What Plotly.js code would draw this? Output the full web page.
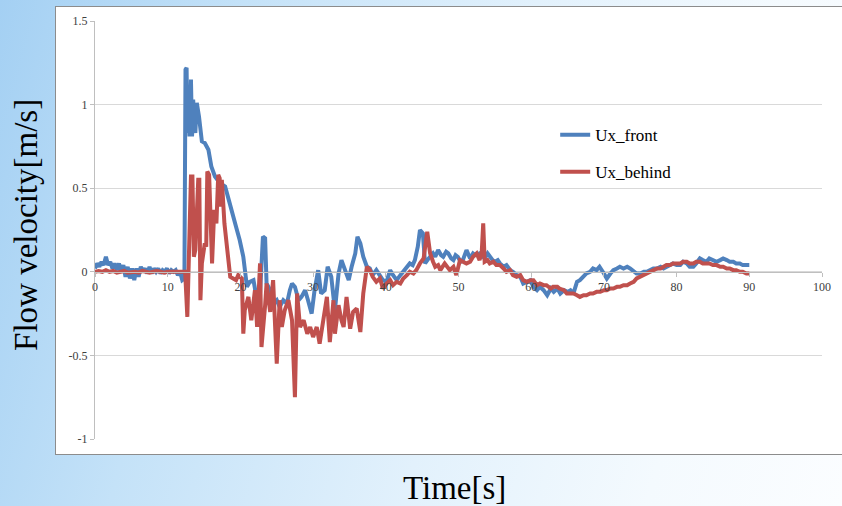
<!DOCTYPE html>
<html>
<head>
<meta charset="utf-8">
<script src="https://cdn.plot.ly/plotly-3.0.1.min.js"></script>
<style>
  html, body { margin: 0; padding: 0; }
  body {
    width: 842px; height: 506px; overflow: hidden; position: relative;
    background: linear-gradient(105deg, #a4d0f3 0%, #c4e2f8 25%, #e2f1fc 55%, #f4fafe 80%, #fbfdff 100%);
  }
  #frame {
    position: absolute; left: 55px; top: 6px; width: 800px; height: 447px;
    background: #ffffff; border: 1px solid #8c8c8c;
  }
  #chart { position: absolute; left: 0; top: 0; width: 842px; height: 506px; }
</style>
</head>
<body>
<div id="frame"></div>
<div id="chart"></div>
<script>
// Ux_front: time [s] and flow velocity [m/s]
const frontTime = [
  0, 0.3, 0.6, 0.9, 1.2, 1.5, 1.8, 2.1, 2.4, 2.7, 3.0, 3.3, 3.6, 3.9, 4.2, 4.5, 4.8, 5.1, 5.4, 5.7,
  6.0, 6.3, 6.6, 6.9, 7.2, 7.5, 7.8, 8.1, 8.4, 8.7, 9.0, 9.3, 9.6, 9.9, 10.2, 10.5, 10.8, 11.1, 11.4, 11.7,
  12.0, 12.3, 12.45, 12.6, 12.7, 12.8, 13.0, 13.2, 13.35, 13.5, 13.8, 14.0, 14.3, 14.7, 15.1, 15.6, 16.0, 16.5, 17.2, 17.6,
  17.9, 18.4, 18.9, 19.4, 19.9, 20.4, 20.9, 21.3, 21.8, 22.2, 22.7, 23.1, 23.4, 23.6, 24.1, 24.5, 25.0, 25.4, 25.9, 26.4,
  26.8, 27.1, 27.5, 28.0, 28.4, 28.9, 29.3, 29.8, 30.2, 30.7, 31.1, 31.6, 32.0, 32.5, 33.0, 33.5, 33.9, 34.4, 34.9, 35.3,
  35.8, 36.1, 36.5, 36.9, 37.4, 37.8, 38.2, 38.7, 39.2, 39.6, 40.1, 40.6, 41.0, 41.5, 42.0, 42.4, 42.9, 43.3, 43.7, 44.0,
  44.4, 44.7, 45.1, 45.4, 45.9, 46.5, 46.8, 47.2, 47.6, 47.9, 48.3, 48.6, 49.0, 49.3, 49.6, 49.9, 50.3, 50.6, 51.1, 51.6,
  52.0, 52.3, 52.9, 53.3, 53.6, 54.0, 54.3, 54.7, 55.0, 55.4, 55.7, 56.2, 56.6, 57.1, 57.5, 58.0, 58.5, 58.9, 59.4, 59.9,
  60.3, 60.8, 61.2, 61.7, 62.2, 62.7, 63.1, 63.6, 64.0, 64.5, 65.0, 65.4, 65.8, 66.3, 66.7, 67.2, 67.6, 68.1, 68.5, 69.0,
  69.4, 70.0, 70.4, 70.9, 71.3, 71.8, 72.2, 72.7, 73.2, 73.6, 74.1, 74.5, 75.0, 75.5, 75.9, 76.4, 76.8, 77.3, 77.8, 78.2,
  78.6, 79.1, 79.5, 80.0, 80.5, 80.9, 81.4, 81.8, 82.3, 82.7, 83.2, 83.6, 84.1, 84.5, 85.0, 85.5, 86.0, 86.4, 86.9, 87.3,
  87.8, 88.2, 88.7, 89.1, 89.6, 90.0
];
const frontVel = [
  0.02, 0.05, 0.03, 0.06, 0.04, 0.09, 0.04, 0.06, 0.02, 0.05, 0.01, 0.05, 0.0, 0.04, -0.03, 0.03, -0.04, 0.02, -0.05, 0.02,
  -0.03, 0.03, 0.0, 0.02, -0.01, 0.03, -0.01, 0.02, 0.0, 0.02, -0.01, 0.01, 0.0, 0.02, -0.01, 0.01, 0.0, 0.01, -0.02, 0.0,
  -0.05, -0.04, 1.21, 1.22, 0.83, 1.09, 0.81, 1.15, 0.81, 1.03, 0.83, 1.01, 0.93, 0.78, 0.77, 0.73, 0.63, 0.57, 0.53, 0.52,
  0.51, 0.43, 0.34, 0.27, 0.19, 0.09, -0.09, -0.06, -0.05, -0.15, -0.13, 0.21, 0.2, -0.07, -0.11, -0.19, -0.17, -0.21, -0.17, -0.19,
  -0.11, -0.07, -0.09, -0.17, -0.15, -0.11, -0.17, -0.25, -0.11, 0.01, -0.13, -0.11, 0.03, -0.03, -0.23, -0.01, 0.07, 0.01, -0.05, 0.03,
  0.11, 0.21, 0.17, 0.09, 0.03, 0.02, -0.02, 0.01, -0.03, -0.05, -0.06, 0.01, -0.02, -0.05, -0.02, 0.0, 0.03, 0.05, 0.04, 0.07,
  0.15, 0.25, 0.23, 0.05, 0.08, 0.11, 0.09, 0.13, 0.10, 0.09, 0.12, 0.11, 0.08, 0.07, 0.10, 0.09, 0.06, 0.07, 0.13, 0.08,
  0.11, 0.10, 0.11, 0.09, 0.08, 0.11, 0.09, 0.07, 0.06, 0.07, 0.05, 0.03, 0.04, 0.01, 0.0, -0.02, -0.03, -0.07, -0.06, -0.05,
  -0.09, -0.11, -0.09, -0.11, -0.14, -0.10, -0.12, -0.10, -0.13, -0.11, -0.12, -0.11, -0.13, -0.06, -0.05, -0.03, -0.01, 0.0, 0.02, 0.01,
  0.03, -0.01, -0.04, -0.01, 0.01, 0.02, 0.03, 0.02, 0.03, 0.02, 0.0, -0.01, -0.01, 0.0, 0.0, 0.01, 0.02, 0.02, 0.03, 0.02,
  0.03, 0.04, 0.05, 0.04, 0.04, 0.06, 0.05, 0.03, 0.03, 0.05, 0.08, 0.07, 0.06, 0.08, 0.07, 0.06, 0.07, 0.08, 0.07, 0.06,
  0.06, 0.05, 0.05, 0.04, 0.04, 0.04
];

// Ux_behind: time [s] and flow velocity [m/s]
const behindTime = [
  0, 0.5, 1.0, 1.5, 2.0, 2.5, 3.0, 3.5, 4.0, 4.5, 5.0, 5.5, 6.0, 6.5, 7.0, 7.5, 8.0, 8.5, 9.0, 9.5,
  10.0, 10.5, 11.0, 11.5, 12.0, 12.4, 12.7, 12.85, 13.2, 13.4, 13.6, 13.8, 14.2, 14.35, 14.5, 14.7, 14.9, 15.1, 15.3, 15.45,
  15.7, 15.85, 16.1, 16.4, 16.7, 16.95, 17.15, 17.3, 17.45, 17.8, 18.3, 18.6, 19.0, 19.4, 19.7, 20.0, 20.2, 20.4, 20.6, 21.1,
  21.5, 22.0, 22.3, 22.7, 22.9, 23.4, 23.6, 24.1, 24.5, 25.0, 25.4, 25.7, 26.1, 26.6, 27.1, 27.5, 27.8, 28.2, 28.7, 29.2,
  29.6, 30.0, 30.5, 30.9, 31.4, 31.9, 32.3, 32.8, 33.0, 33.5, 33.9, 34.2, 34.6, 35.1, 35.5, 36.0, 36.5, 36.9, 37.4, 37.8,
  38.2, 38.7, 39.2, 39.6, 40.1, 40.6, 41.0, 41.5, 42.0, 42.4, 42.9, 43.3, 43.8, 44.2, 44.7, 45.2, 45.7, 46.1, 46.5, 46.8,
  47.2, 47.5, 48.1, 48.5, 48.8, 49.3, 49.7, 50.2, 50.6, 51.1, 51.6, 52.0, 52.5, 52.9, 53.2, 53.4, 53.6, 54.0, 54.3, 54.8,
  55.2, 55.7, 56.2, 56.6, 57.1, 57.5, 58.0, 58.5, 58.9, 59.4, 59.9, 60.3, 60.8, 61.2, 61.7, 62.1, 62.7, 63.0, 63.6, 63.9,
  64.5, 64.9, 65.4, 65.8, 66.3, 66.7, 67.2, 67.6, 68.1, 68.5, 69.0, 69.5, 70.0, 70.4, 70.9, 71.3, 71.8, 72.2, 72.7, 73.2,
  73.6, 74.1, 74.5, 75.0, 75.5, 75.9, 76.4, 76.8, 77.3, 77.8, 78.2, 78.6, 79.1, 79.5, 80.0, 80.5, 80.9, 81.4, 81.8, 82.3,
  82.7, 83.2, 83.6, 84.1, 84.5, 85.0, 85.5, 86.0, 86.4, 86.9, 87.3, 87.8, 88.2, 88.7, 89.1, 89.6, 90.0
];
const behindVel = [
  0.0, 0.005, 0.0, 0.01, 0.0, 0.005, -0.005, 0.0, 0.005, -0.005, 0.0, 0.0, -0.005, 0.005, 0.0, -0.005, 0.0, 0.005, 0.0, -0.005,
  0.0, 0.0, -0.005, 0.0, 0.0, 0.0, -0.27, 0.05, 0.57, 0.57, 0.09, 0.13, 0.55, 0.55, -0.17, 0.05, 0.13, 0.17, 0.15, 0.6,
  0.58, 0.3, 0.05, 0.37, 0.29, 0.58, 0.56, 0.39, 0.55, 0.29, 0.09, -0.03, -0.04, -0.05, -0.02, -0.03, -0.04, -0.37, -0.23, -0.15,
  -0.29, -0.11, -0.33, 0.05, -0.45, -0.2, -0.07, -0.24, -0.05, -0.55, -0.17, -0.33, -0.23, -0.17, -0.29, -0.75, -0.13, -0.33, -0.29, -0.37,
  -0.33, -0.39, -0.33, -0.43, -0.3, -0.15, -0.42, -0.17, -0.37, -0.2, -0.29, -0.33, -0.15, -0.34, -0.24, -0.22, -0.36, -0.13, 0.03, 0.01,
  -0.03, -0.06, -0.04, -0.1, -0.07, -0.05, -0.08, -0.06, -0.07, -0.04, -0.02, 0.0, -0.01, 0.01, 0.05, 0.08, 0.24, 0.11, 0.06, 0.03,
  0.04, 0.01, 0.05, 0.03, 0.01, 0.03, -0.02, 0.07, 0.06, 0.05, 0.06, 0.09, 0.11, 0.07, 0.12, 0.29, 0.06, 0.07, 0.05, 0.06,
  0.04, 0.04, 0.02, 0.0, 0.01, -0.02, -0.03, -0.02, -0.05, -0.06, -0.05, -0.05, -0.08, -0.07, -0.08, -0.08, -0.1, -0.09, -0.09, -0.1,
  -0.11, -0.13, -0.13, -0.13, -0.14, -0.15, -0.14, -0.14, -0.13, -0.13, -0.12, -0.12, -0.11, -0.11, -0.1, -0.1, -0.09, -0.09, -0.08, -0.08,
  -0.07, -0.06, -0.04, -0.03, -0.02, -0.01, 0.0, 0.01, 0.02, 0.02, 0.03, 0.04, 0.04, 0.05, 0.05, 0.05, 0.06, 0.06, 0.05, 0.05,
  0.06, 0.06, 0.05, 0.05, 0.05, 0.04, 0.04, 0.03, 0.03, 0.02, 0.02, 0.01, 0.01, 0.0, 0.0, -0.01, -0.01
];

// Axis ticks
const xTickVals = [0, 10, 20, 30, 40, 50, 60, 70, 80, 90, 100];
const yTickVals = [-1, -0.5, 0, 0.5, 1, 1.5];
const yTickText = ['-1', '-0.5', '0', '0.5', '1', '1.5'];

const serif = '"Liberation Serif", "Times New Roman", Times, serif';

const traces = [
  {
    x: frontTime, y: frontVel, name: 'Ux_front', type: 'scatter', mode: 'lines',
    legendgroup: 'front',
    line: { color: '#4f81bd', width: 4 }
  },
  {
    x: behindTime, y: behindVel, name: 'Ux_behind', type: 'scatter', mode: 'lines',
    legendgroup: 'behind',
    line: { color: '#c0504d', width: 4 }
  }
];

const layout = {
  width: 842, height: 506,
  margin: { l: 95, r: 20, t: 21, b: 67 },
  paper_bgcolor: 'rgba(0,0,0,0)',
  plot_bgcolor: 'rgba(0,0,0,0)',
  showlegend: true,
  legend: {
    x: 0.633, y: 0.77, xanchor: 'left', yanchor: 'top',
    bgcolor: 'rgba(0,0,0,0)',
    font: { family: serif, size: 17, color: '#000000' },
    tracegroupgap: 12
  },
  xaxis: {
    range: [0, 100],
    tickmode: 'array', tickvals: xTickVals,
    anchor: 'free', position: 0.4,
    showgrid: false, zeroline: false,
    showline: true, linecolor: '#bfbfbf', linewidth: 1,
    ticks: 'outside', ticklen: 4, tickcolor: '#bfbfbf',
    tickfont: { family: serif, size: 12, color: '#404040' },
    fixedrange: true
  },
  yaxis: {
    range: [-1, 1.5],
    tickmode: 'array', tickvals: yTickVals, ticktext: yTickText,
    showgrid: true, gridcolor: '#d9d9d9', gridwidth: 1,
    zeroline: false,
    showline: true, linecolor: '#bfbfbf', linewidth: 1,
    ticks: 'outside', ticklen: 4, tickcolor: '#bfbfbf',
    tickfont: { family: serif, size: 12, color: '#404040' },
    fixedrange: true
  },
  annotations: [
    {
      text: 'Flow velocity[m/s]', xref: 'paper', yref: 'paper',
      x: -0.095, y: 0.512, xanchor: 'center', yanchor: 'middle',
      textangle: -90, showarrow: false,
      font: { family: serif, size: 33, color: '#000000' }
    },
    {
      text: 'Time[s]', xref: 'paper', yref: 'paper',
      x: 0.494, y: -0.117, xanchor: 'center', yanchor: 'middle',
      showarrow: false,
      font: { family: serif, size: 33, color: '#000000' }
    }
  ]
};

Plotly.newPlot('chart', traces, layout, { displayModeBar: false, staticPlot: true });
</script>
</body>
</html>
